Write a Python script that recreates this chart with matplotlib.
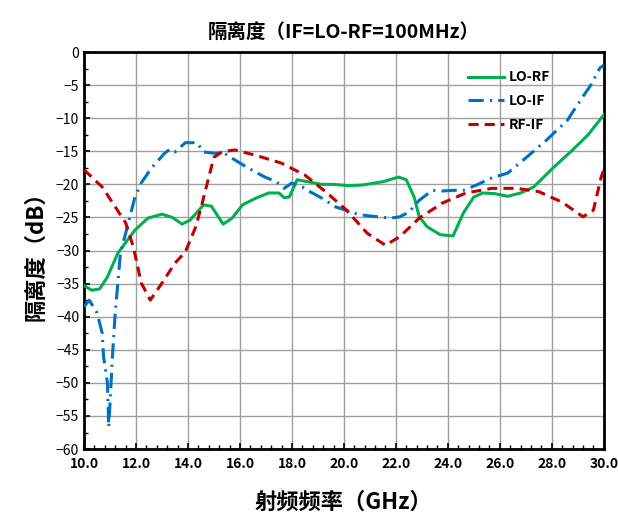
import numpy as np
import matplotlib
matplotlib.use("Agg")
import matplotlib.pyplot as plt
from matplotlib.ticker import MultipleLocator, FormatStrFormatter

plt.rcParams["font.family"] = ["Noto Sans CJK SC", "DejaVu Sans"]

# LO-RF 隔离度
lo_rf_x = [10.0, 10.3, 10.6, 10.9, 11.3, 11.96, 12.46, 13.0, 13.4, 13.77, 14.08, 14.6, 14.9,
           15.35, 15.7, 16.1, 16.6, 17.1, 17.5, 17.7, 17.9, 18.2, 18.6, 19.15, 19.6, 20.2,
           20.7, 21.5, 22.1, 22.4, 22.7, 22.9, 23.2, 23.7, 24.2, 24.6, 25.0, 25.35, 25.8,
           26.3, 26.8, 27.3, 28.05, 28.8, 29.4, 30.0]
lo_rf_y = [-35.3, -36.0, -35.8, -34.0, -30.4, -26.9, -25.1, -24.5, -25.0, -26.0, -25.4,
           -23.1, -23.3, -26.0, -25.1, -23.1, -22.1, -21.3, -21.3, -22.0, -21.9, -19.3,
           -19.6, -20.0, -20.0, -20.2, -20.1, -19.6, -18.9, -19.3, -21.9, -24.9, -26.4,
           -27.6, -27.8, -24.3, -21.9, -21.3, -21.4, -21.8, -21.3, -20.4, -17.5, -14.8,
           -12.5, -9.5]

# LO-IF 隔离度
lo_if_x = [10.0, 10.2, 10.5, 10.7, 10.75, 10.9, 10.95, 11.1, 11.2, 11.4, 11.6, 11.96, 12.2,
           12.6, 13.1, 13.3, 13.5, 13.9, 14.35, 14.6, 15.0, 15.4, 15.8, 16.3, 16.96, 17.4,
           17.7, 18.0, 18.4, 18.6, 19.3, 19.6, 20.6, 21.3, 21.8, 22.15, 22.5, 22.9, 23.4,
           23.8, 24.2, 24.6, 25.1, 25.7, 26.3, 27.0, 27.8, 28.6, 29.1, 29.5, 29.85, 30.0]
lo_if_y = [-38.5, -37.5, -39.4, -42.5, -46.0, -50.0, -56.7, -45.5, -39.4, -30.4, -27.4,
           -21.9, -19.8, -17.5, -15.3, -14.7, -15.1, -13.7, -13.7, -15.1, -15.3, -15.3,
           -16.3, -17.5, -18.9, -19.6, -20.6, -19.8, -20.4, -20.9, -22.4, -23.3, -24.6,
           -24.9, -25.1, -24.9, -24.2, -22.4, -20.9, -21.0, -20.9, -20.9, -20.1, -19.0,
           -18.3, -16.0, -13.3, -10.3, -7.3, -5.0, -2.4, -2.0]

# RF-IF 隔离度
rf_if_x = [10.0, 10.7, 11.2, 11.6, 11.9, 12.2, 12.55, 13.0, 13.5, 13.9, 14.3, 14.55, 14.8,
           15.0, 15.3, 15.8, 16.6, 17.6, 18.5, 19.35, 20.1, 20.9, 21.6, 22.15, 22.9, 23.8,
           24.7, 25.7, 26.65, 27.5, 28.4, 29.2, 29.6, 29.9, 30.0]
rf_if_y = [-17.8, -20.4, -23.4, -25.8, -29.5, -34.9, -37.5, -34.9, -31.9, -30.2, -26.4,
           -22.8, -18.9, -15.9, -15.1, -14.8, -15.6, -16.8, -18.6, -21.3, -23.9, -27.4,
           -29.2, -27.9, -25.1, -22.8, -21.3, -20.6, -20.6, -21.1, -22.7, -24.9, -23.9,
           -18.9, -17.8]

fig = plt.figure(figsize=(6.18, 5.15), dpi=100)
ax = fig.add_axes([0.136, 0.128, 0.841, 0.771])

ax.plot(lo_rf_x, lo_rf_y, color="#00B050", lw=2.2, label="LO-RF", zorder=3)
ax.plot(lo_if_x, lo_if_y, color="#0070C0", lw=2.2, dashes=(5, 2, 0.7, 2), label="LO-IF", zorder=3)
ax.plot(rf_if_x, rf_if_y, color="#C00000", lw=2.2, dashes=(3.3, 2), label="RF-IF", zorder=3)

ax.set_xlim(10, 30)
ax.set_ylim(-60, 0)
ax.xaxis.set_major_locator(MultipleLocator(2))
ax.xaxis.set_minor_locator(MultipleLocator(0.4))
ax.yaxis.set_major_locator(MultipleLocator(5))
ax.yaxis.set_minor_locator(MultipleLocator(2.5))
ax.xaxis.set_major_formatter(FormatStrFormatter("%.1f"))
ax.tick_params(which="both", direction="in", top=False, right=False, labelsize=10)
ax.tick_params(which="major", length=4, width=1.2)
ax.tick_params(which="minor", length=3, width=1.0)
ax.tick_params(axis="x", pad=6)
for lab in ax.get_xticklabels():
    lab.set_fontweight("bold")
ax.grid(True, which="major", color="#A0A0A0", lw=1.0)
for s in ax.spines.values():
    s.set_linewidth(2)

ax.set_title("隔离度（IF=LO-RF=100MHz）", fontsize=14, fontweight="bold", pad=10)
ax.set_xlabel("射频频率（GHz）", fontsize=16, fontweight="bold", labelpad=14)
ax.set_ylabel("隔离度（dB）", fontsize=16, fontweight="bold", labelpad=6)

leg = ax.legend(loc="upper right", bbox_to_anchor=(0.92, 0.985), frameon=False,
                prop={"size": 10, "weight": "bold"},
                handlelength=2.6, labelspacing=0.7, handletextpad=0.3)

fig.savefig("out.png", dpi=100)
